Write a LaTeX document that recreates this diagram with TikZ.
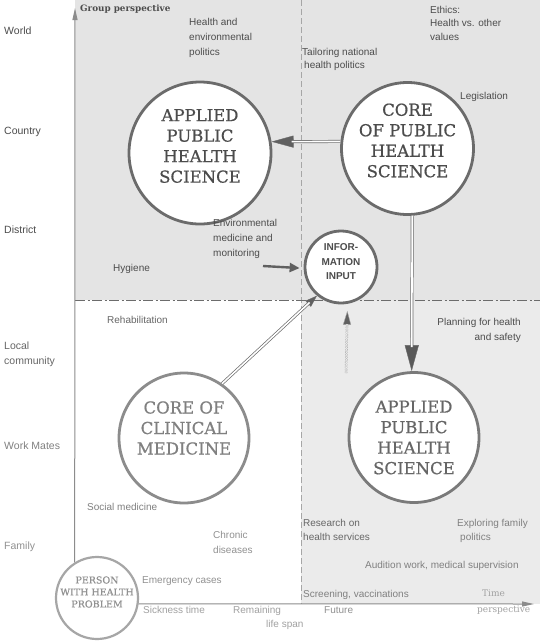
\documentclass[tikz,border=0pt]{standalone}
\usepackage{fontspec}
\setmainfont{DejaVu Serif}
\setsansfont{Liberation Sans}
\newfontfamily\cfont{DejaVu Serif}[BoldFont={DejaVu Serif}, BoldFeatures={FakeBold=0.6}]
\usetikzlibrary{arrows.meta}
\definecolor{bgA}{gray}{0.895}
\definecolor{bgB}{gray}{0.92}
\definecolor{tA}{gray}{0.30}
\definecolor{tB}{gray}{0.40}
\definecolor{tC}{gray}{0.50}
\definecolor{tD}{gray}{0.57}
\definecolor{tE}{gray}{0.63}
\definecolor{lnA}{gray}{0.42}
\definecolor{lnB}{gray}{0.48}
\definecolor{lnC}{gray}{0.55}
\definecolor{lnD}{gray}{0.65}
\begin{document}
\begin{tikzpicture}[x=1pt,y=-1pt,
  lbl/.style={font=\sffamily\fontsize{10}{14.5}\selectfont, inner sep=0pt, align=left, anchor=north west, text=tA},
  side/.style={lbl, font=\sffamily\fontsize{10.5}{15}\selectfont},
  circ/.style={circle, inner sep=0pt, fill=white, line width=2.8pt},
  ctext/.style={font=\cfont\bfseries\fontsize{16.5}{20.5}\selectfont, align=center, inner sep=0pt},
  dbl/.style={double=white, double distance=1.6pt, line width=0.7pt},
  tipline/.style={line width=0.4pt}
]
\useasboundingbox (0,0) rectangle (540,643);
\fill[white] (0,0) rectangle (540,643);
\fill[bgA] (75,0) rectangle (540,300);
\fill[bgB] (301,300) rectangle (540,604);

% guide lines
\coordinate (vt) at (301,0);
\coordinate (vb) at (301,604);
\draw[gray!70, line width=0.6pt, dash pattern=on 6pt off 3pt] (vt) -- (vb);
\coordinate (hl) at (75,300);
\coordinate (hr) at (540,300);
\draw[gray!85!black, line width=1pt, dash pattern=on 10pt off 2.5pt on 2pt off 2.5pt] (hl) -- (hr);

% circles
\node[circ, draw=lnA, minimum size=142pt] (apl1) at (200,153) {};
\node[ctext, text=tA] at ([yshift=7pt]apl1.center) {APPLIED\\PUBLIC\\HEALTH\\SCIENCE};
\node[circ, draw=lnA, minimum size=132pt] (core) at (407.5,148.5) {};
\node[ctext, text=tA] at ([yshift=8pt]core.center) {CORE\\OF PUBLIC\\HEALTH\\SCIENCE};
\node[circ, draw=lnA, minimum size=72pt] (info) at (341,267) {};
\node[font=\sffamily\bfseries\fontsize{10}{14.5}\selectfont, align=center, inner sep=0pt, text=tA] at ([yshift=5pt]info.center) {INFOR-\\MATION\\INPUT};
\node[circ, draw=lnC, minimum size=130pt] (clin) at (184,438) {};
\node[ctext, text=tC] at ([yshift=10pt]clin.center) {CORE OF\\CLINICAL\\MEDICINE};
\node[circ, draw=lnB, minimum size=130pt] (apl2) at (414,437.5) {};
\node[ctext, text=tB] at (apl2.center) {APPLIED\\PUBLIC\\HEALTH\\SCIENCE};
\node[circ, draw=lnD, line width=2.2pt, minimum size=82pt] (person) at (97,598) {};
\node[font=\cfont\bfseries\fontsize{9.5}{12}\selectfont, align=center, inner sep=0pt, text=tD] at ([yshift=6pt]person.center) {PERSON\\WITH HEALTH\\PROBLEM};

% axes
\coordinate (ytop) at (75,8);
\coordinate (xend) at (534,604);
\draw[lnC, line width=1pt, -{Triangle[length=12pt,width=5pt]}] (person.122) -- (ytop);
\draw[lnC, line width=1pt, -{Triangle[length=12pt,width=5pt]}] (person.-8) -- (xend);
\node[font=\bfseries\fontsize{8.8}{10}\selectfont, text=tA, anchor=west, inner sep=0pt] (gp) at (80,9) {Group perspective};
\node[font=\fontsize{9}{16}\selectfont, text=tE, align=left, anchor=north west, inner sep=0pt] (tp) at (477,590) {\hspace{5pt}Time\\perspective};

% arrows
\draw[lnA, tipline, -{Triangle[length=22pt,width=12pt, fill=gray!75!black]}] (core.174) -- (apl1.9);
\draw[lnA, dbl, shorten >=20pt] (core.174) -- (apl1.9);
\draw[lnA, tipline, -{Triangle[length=26pt,width=14pt, fill=gray!70!black]}] (core.274) -- (apl2.92);
\draw[lnA, dbl, shorten >=24pt] (core.274) -- (apl2.92);
\draw[lnA, tipline, -{Triangle[length=12pt,width=8pt, fill=gray!75!black]}] (clin.55) -- (info.230);
\draw[lnA, dbl, shorten >=10pt] (clin.55) -- (info.230);
\coordinate (envs) at (263,266);
\draw[gray!75!black, line width=2.4pt, -{Triangle[length=10pt,width=9pt]}, shorten >=4pt] (envs) -- (info.182);
\coordinate (ups) at (346,373);
\draw[gray!70, tipline, -{Triangle[length=14pt,width=8pt, fill=gray!75!black]}, shorten >=7pt] (ups) -- (info.280);
\draw[gray!60, line width=0.6pt, double=bgB, double distance=1.3pt, dash pattern=on 1.5pt off 1pt, shorten >=20pt] (ups) -- (info.280);

% side labels
\node[side] (sw) at (4,27) {World};
\node[side] (sc) at (4,127) {Country};
\node[side] (sd) at (4,226) {District};
\node[side, text=tB] (sl) at (4,342) {Local\\community};
\node[side, text=tC] (sm) at (4,442) {Work Mates};
\node[side, text=tD] (sf) at (4,542) {Family};

% content labels
\node[lbl, font=\sffamily\fontsize{10}{15}\selectfont] (hep) at (189,18) {Health and\\environmental\\politics};
\node[lbl, font=\sffamily\fontsize{10}{13.5}\selectfont] (eth) at (430,6) {Ethics:\\Health vs. other\\values};
\node[lbl, font=\sffamily\fontsize{10}{13.5}\selectfont] (tnh) at (302,48) {Tailoring national\\\hspace{2pt}health politics};
\node[lbl] (leg) at (460,92) {Legislation};
\node[lbl, font=\sffamily\fontsize{10}{15}\selectfont] (env) at (213,219) {Environmental\\medicine and\\monitoring};
\node[lbl] (hyg) at (113,264) {Hygiene};
\node[lbl, text=tB] (reh) at (107,316) {Rehabilitation};
\node[lbl, align=right, anchor=north east, font=\sffamily\fontsize{10}{15}\selectfont] (plan) at (521,318) {Planning for health\\and safety};
\node[lbl, text=tC] (soc) at (87,503) {Social medicine};
\node[lbl, text=tD, font=\sffamily\fontsize{10}{15}\selectfont] (chr) at (213,531) {Chronic\\diseases};
\node[lbl, text=tB] (res) at (303,519) {Research on\\health services};
\node[lbl, text=tC] (expl) at (457,519) {Exploring family\\\hspace{3pt}politics};
\node[lbl, text=tC] (aud) at (365,561) {Audition work, medical supervision};
\node[lbl, text=tD] (emg) at (142,576) {Emergency cases};
\node[lbl, text=tE] (sick) at (143,606) {Sickness time};
\node[lbl, text=tE] (rem) at (233,606) {Remaining\\\hspace{33pt}life span};
\node[lbl, text=tC] (scr) at (303,590) {Screening, vaccinations};
\node[lbl, text=tD] (fut) at (324,606) {Future};
\end{tikzpicture}
\end{document}
